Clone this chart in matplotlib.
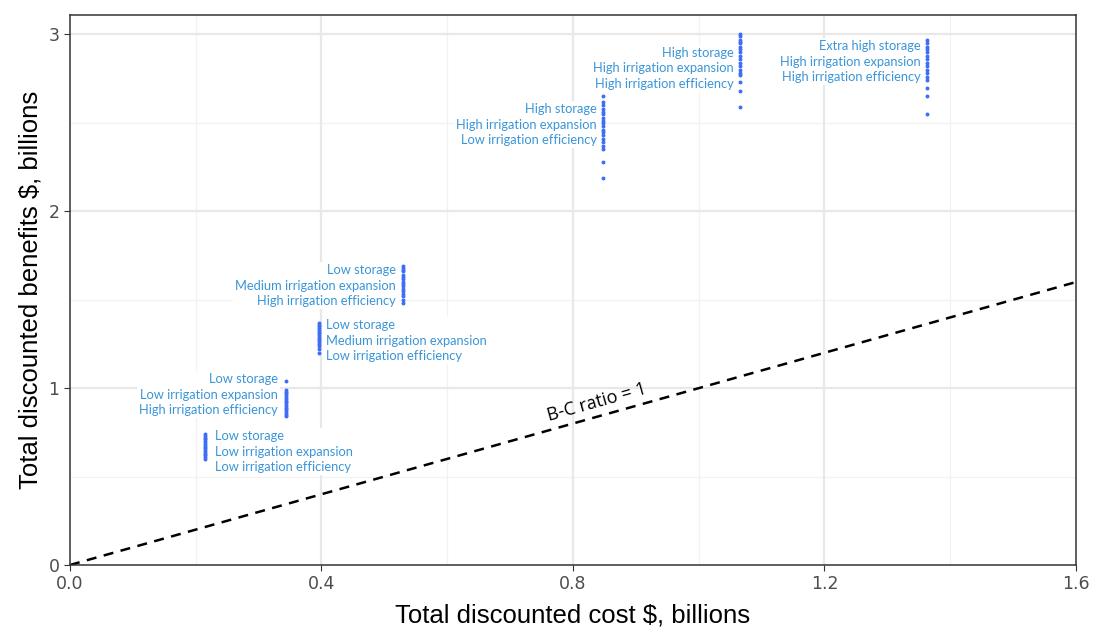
import matplotlib.pyplot as plt

# costo (x) de cada escenario, en miles de millones
costos = [0.215, 0.343, 0.396, 0.530, 0.848, 1.066, 1.363]

# beneficios (y) de cada corrida del escenario
beneficios = [
    [0.60, 0.61, 0.62, 0.63, 0.64, 0.65, 0.66, 0.67, 0.68, 0.69, 0.70, 0.71, 0.72, 0.73, 0.74],
    [1.04, 0.99, 0.98, 0.97, 0.96, 0.95, 0.94, 0.93, 0.92, 0.91, 0.90, 0.89, 0.88, 0.87, 0.86, 0.85, 0.84],
    [1.37, 1.36, 1.35, 1.34, 1.33, 1.32, 1.31, 1.30, 1.29, 1.28, 1.27, 1.26, 1.25, 1.24, 1.22, 1.20],
    [1.69, 1.68, 1.67, 1.66, 1.64, 1.63, 1.62, 1.60, 1.59, 1.58, 1.56, 1.55, 1.53, 1.52, 1.50, 1.48],
    [2.65, 2.62, 2.60, 2.58, 2.56, 2.55, 2.53, 2.51, 2.50, 2.48, 2.46, 2.45, 2.43, 2.41, 2.39, 2.37, 2.35, 2.28, 2.19],
    [3.00, 2.99, 2.97, 2.96, 2.95, 2.93, 2.92, 2.90, 2.88, 2.86, 2.84, 2.82, 2.80, 2.78, 2.77, 2.73, 2.68, 2.59],
    [2.97, 2.95, 2.93, 2.92, 2.90, 2.88, 2.86, 2.84, 2.82, 2.80, 2.78, 2.76, 2.74, 2.70, 2.65, 2.55],
]

etiquetas = [
    "Low storage\nLow irrigation expansion\nLow irrigation efficiency",
    "Low storage\nLow irrigation expansion\nHigh irrigation efficiency",
    "Low storage\nMedium irrigation expansion\nLow irrigation efficiency",
    "Low storage\nMedium irrigation expansion\nHigh irrigation efficiency",
    "High storage\nHigh irrigation expansion\nLow irrigation efficiency",
    "High storage\nHigh irrigation expansion\nHigh irrigation efficiency",
    "Extra high storage\nHigh irrigation expansion\nHigh irrigation efficiency",
]

# donde va cada etiqueta (x, y, alineacion)
pos_etiq = [
    (0.231, 0.640, "left"),
    (0.331, 0.962, "right"),
    (0.407, 1.268, "left"),
    (0.518, 1.579, "right"),
    (0.838, 2.490, "right"),
    (1.056, 2.808, "right"),
    (1.353, 2.847, "right"),
]

linea_bc = [0, 1.6]

fig = plt.figure(figsize=(10.95, 6.27), dpi=100)
ax = fig.add_axes([0.0639, 0.0989, 0.9187, 0.8771])

# lineas de grilla estilo ggplot
for v in [0.2, 0.6, 1.0, 1.4]:
    ax.axvline(v, color="#f2f2f2", lw=0.9, zorder=0)
for v in [0.5, 1.5, 2.5]:
    ax.axhline(v, color="#f2f2f2", lw=0.9, zorder=0)
for v in [0.4, 0.8, 1.2]:
    ax.axvline(v, color="#e8e8e8", lw=1.6, zorder=0)
for v in [1, 2, 3]:
    ax.axhline(v, color="#e8e8e8", lw=1.6, zorder=0)

# linea B-C = 1
ax.plot(linea_bc, linea_bc, ls=(0, (4, 3)), color="black", lw=1.8, zorder=2)

for x, ys in zip(costos, beneficios):
    ax.scatter([x] * len(ys), ys, s=8, color="#3d6ef5", zorder=4, linewidths=0)

for (tx, ty, al), txt in zip(pos_etiq, etiquetas):
    ax.text(tx, ty, txt, ha=al, va="center", fontsize=9.3, color="#3a95d8",
            family="Lato", linespacing=1.35, zorder=3,
            bbox=dict(facecolor="white", edgecolor="none", pad=1.5))

ax.text(0.838, 0.918, "B-C ratio = 1", rotation=15.7, ha="center", va="center",
        fontsize=13, color="black", family="Open Sans", rotation_mode="anchor")

ax.set_xlim(0, 1.6)
ax.set_ylim(0, 3.11)
ax.set_xticks([0.0, 0.4, 0.8, 1.2, 1.6])
ax.set_xticklabels(["0.0", "0.4", "0.8", "1.2", "1.6"])
ax.set_yticks([0, 1, 2, 3])
ax.tick_params(labelsize=12.5, colors="#333333", labelcolor="#4d4d4d", length=4)
for s in ax.spines.values():
    s.set_color("#333333")
    s.set_linewidth(1.1)

ax.set_xlabel("Total discounted cost $, billions", fontsize=18.5, family="Liberation Sans", labelpad=7)
ax.set_ylabel("Total discounted benefits $, billions", fontsize=18.5, family="Liberation Sans", labelpad=4)

fig.savefig("out.png", dpi=100)
